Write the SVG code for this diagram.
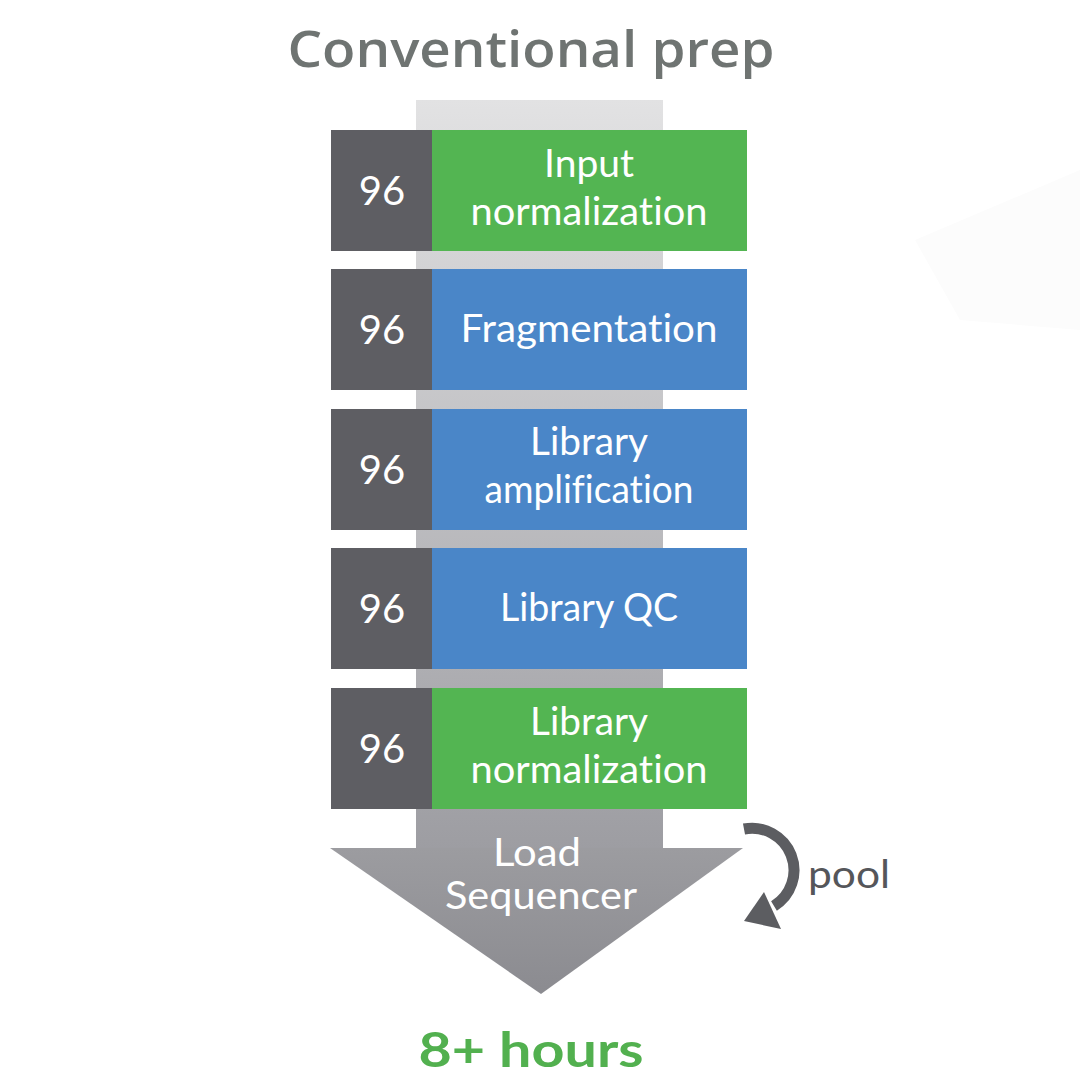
<svg xmlns="http://www.w3.org/2000/svg" width="1080" height="1080" viewBox="0 0 1080 1080">
<defs>
<linearGradient id="colGrad" gradientUnits="userSpaceOnUse" x1="0" y1="100" x2="0" y2="850">
<stop offset="0" stop-color="#e2e2e3"/>
<stop offset="1" stop-color="#9d9da2"/>
</linearGradient>
<linearGradient id="triGrad" gradientUnits="userSpaceOnUse" x1="0" y1="848" x2="0" y2="995">
<stop offset="0" stop-color="#9c9ca0"/>
<stop offset="1" stop-color="#8b8b90"/>
</linearGradient>
</defs>
<style>
.num{fill:#5e5e63}
.green{fill:#53b552}
.blue{fill:#4a86c8}
.w{font-family:Lato,"Open Sans","Liberation Sans",sans-serif;fill:#ffffff;font-size:38px;text-anchor:middle;font-variant-ligatures:none}
.n{font-family:Lato,"Open Sans","Liberation Sans",sans-serif;fill:#ffffff;font-size:40px;text-anchor:middle}
</style>
<rect width="1080" height="1080" fill="#ffffff"/>
<polygon points="915,240 1080,170 1080,330 960,320" fill="#fcfcfc"/>
<text id="title" x="531" y="67" font-family="'Open Sans',Lato,'Liberation Sans',sans-serif" font-weight="600" font-size="50" fill="#6f7472" text-anchor="middle" textLength="487" lengthAdjust="spacingAndGlyphs">Conventional prep</text>
<g id="load-sequencer">
<rect x="416" y="100" width="247" height="750" fill="url(#colGrad)"/>
<polygon points="330,848 743,848 541,994" fill="url(#triGrad)"/>
<text class="w" x="537" y="866" textLength="88" lengthAdjust="spacingAndGlyphs">Load</text>
<text class="w" x="541" y="909" textLength="192" lengthAdjust="spacingAndGlyphs">Sequencer</text>
</g>
<g id="step1">
<rect class="num" x="331" y="130" width="102" height="121"/>
<rect class="green" x="432" y="130" width="315" height="121"/>
<text class="n" x="382" y="205">96</text>
<text class="w" x="589" y="177" textLength="90" lengthAdjust="spacingAndGlyphs">Input</text>
<text class="w" x="589" y="225" textLength="237" lengthAdjust="spacingAndGlyphs">normalization</text>
</g>
<g id="step2">
<rect class="num" x="331" y="269" width="102" height="121"/>
<rect class="blue" x="432" y="269" width="315" height="121"/>
<text class="n" x="382" y="344">96</text>
<text class="w" x="589" y="342" textLength="257" lengthAdjust="spacingAndGlyphs">Fragmentation</text>
</g>
<g id="step3">
<rect class="num" x="331" y="409" width="102" height="121"/>
<rect class="blue" x="432" y="409" width="315" height="121"/>
<text class="n" x="382" y="484">96</text>
<text class="w" x="589" y="455" textLength="118" lengthAdjust="spacingAndGlyphs">Library</text>
<text class="w" x="589" y="503" textLength="209" lengthAdjust="spacingAndGlyphs">amplification</text>
</g>
<g id="step4">
<rect class="num" x="331" y="548" width="102" height="121"/>
<rect class="blue" x="432" y="548" width="315" height="121"/>
<text class="n" x="382" y="623">96</text>
<text class="w" x="589" y="621" textLength="178" lengthAdjust="spacingAndGlyphs">Library QC</text>
</g>
<g id="step5">
<rect class="num" x="331" y="688" width="102" height="121"/>
<rect class="green" x="432" y="688" width="315" height="121"/>
<text class="n" x="382" y="763">96</text>
<text class="w" x="589" y="735" textLength="118" lengthAdjust="spacingAndGlyphs">Library</text>
<text class="w" x="589" y="783" textLength="237" lengthAdjust="spacingAndGlyphs">normalization</text>
</g>
<g id="connectors">
<path d="M 744 829 A 42 42 0 0 1 774 906" fill="none" stroke="#5c5d61" stroke-width="11"/>
<polygon points="744,921 764,892 781,929" fill="#5c5d61"/>
</g>
<text id="pool" x="808" y="888" font-family="Lato,'Open Sans','Liberation Sans',sans-serif" font-size="38" fill="#55565a" textLength="82" lengthAdjust="spacingAndGlyphs">pool</text>
<text id="time" x="531" y="1067" font-family="Lato,'Open Sans','Liberation Sans',sans-serif" font-weight="bold" font-size="48" fill="#52b04f" text-anchor="middle" textLength="225" lengthAdjust="spacingAndGlyphs">8+ hours</text>
</svg>
